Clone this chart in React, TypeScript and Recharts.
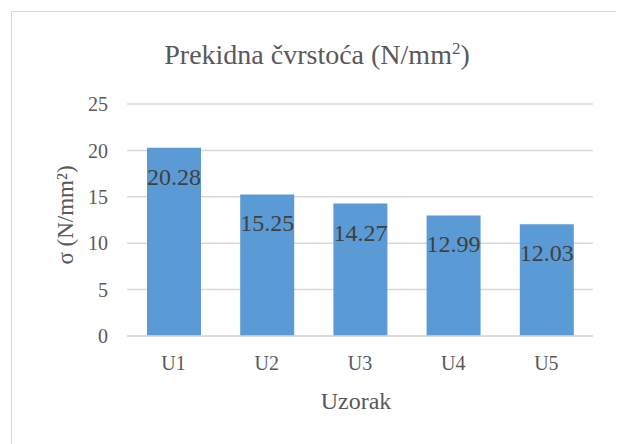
import React from "react"
import { Bar, BarChart, CartesianGrid, XAxis, YAxis, Label, LabelList } from "recharts"

const categories = ["U1", "U2", "U3", "U4", "U5"]
const strength = [20.28, 15.25, 14.27, 12.99, 12.03]
const yTicks = [0, 5, 10, 15, 20, 25]

const FONT = "Liberation Serif"
const TEXT = "#595959"
const BAR = "#5B9BD5"
const GRID = "#D9D9D9"

const data = categories.map((name, i) => ({ name, value: strength[i] }))

function ValueLabel(props: any) {
  const { x, y, width, value } = props
  return (
    <text
      x={x + width / 2}
      y={y + 29}
      textAnchor="middle"
      dominantBaseline="central"
      fontFamily={FONT}
      fontSize={24}
      fill="#404040"
    >
      {Number(value).toFixed(2)}
    </text>
  )
}

function YTitle(props: any) {
  const { viewBox } = props
  const cx = viewBox.x + 57
  const cy = viewBox.y + viewBox.height / 2 - 5
  return (
    <text
      x={cx}
      y={cy}
      transform={`rotate(-90, ${cx}, ${cy})`}
      textAnchor="middle"
      dominantBaseline="central"
      fontFamily={FONT}
      fontSize={23}
      fill={TEXT}
    >
      σ (N/mm²)
    </text>
  )
}

export default function App() {
  return (
    <div style={{ position: "relative", width: 616, height: 436, overflow: "hidden", fontFamily: FONT }}>
      <div
        style={{
          position: "absolute",
          left: 3,
          top: 3,
          width: 640,
          height: 470,
          border: "1px solid #d9d9d9",
        }}
      />
      <div
        style={{
          position: "absolute",
          left: 0,
          top: 31,
          width: 618,
          textAlign: "center",
          fontSize: 28,
          color: TEXT,
          lineHeight: "31px",
        }}
      >
        Prekidna čvrstoća (N/mm<sup style={{ fontSize: 17, lineHeight: 0 }}>2</sup>)
      </div>
      <div style={{ position: "absolute", left: 0, top: 0 }}>
        <BarChart
          width={616}
          height={436}
          data={data}
          margin={{ top: 96, right: 31, bottom: 78, left: 0 }}
        >
          <CartesianGrid vertical={false} stroke={GRID} strokeWidth={1.5} />
          <XAxis
            dataKey="name"
            height={30}
            axisLine={{ stroke: GRID, strokeWidth: 1.5 }}
            tickLine={false}
            tickSize={0}
            tickMargin={20}
            tick={{ fontFamily: FONT, fontSize: 20, fill: TEXT }}
          >
            <Label
              value="Uzorak"
              position="bottom"
              offset={26}
              dx={-4}
              style={{ fontFamily: FONT, fontSize: 24, fill: TEXT }}
            />
          </XAxis>
          <YAxis
            width={119}
            domain={[0, 25]}
            ticks={yTicks}
            axisLine={false}
            tickLine={false}
            tickSize={0}
            tickMargin={19}
            tick={{ fontFamily: FONT, fontSize: 20, fill: TEXT }}
          >
            <Label content={<YTitle />} />
          </YAxis>
          <Bar dataKey="value" fill={BAR} barSize={54} isAnimationActive={false}>
            <LabelList dataKey="value" content={<ValueLabel />} />
          </Bar>
        </BarChart>
      </div>
    </div>
  )
}
